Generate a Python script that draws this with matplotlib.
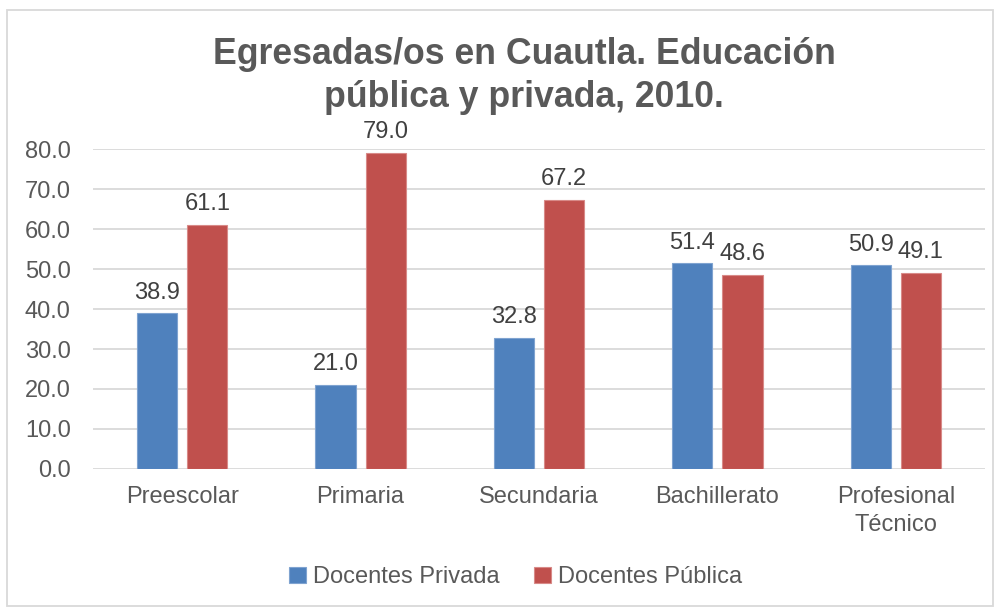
import numpy as np
import matplotlib.pyplot as plt
from matplotlib.patches import Rectangle

plt.rcParams['font.family'] = ['Liberation Sans', 'DejaVu Sans']

categorias = ['Preescolar', 'Primaria', 'Secundaria', 'Bachillerato', 'Profesional\nTécnico']
privada = [38.9, 21.0, 32.8, 51.4, 50.9]
publica = [61.1, 79.0, 67.2, 48.6, 49.1]

azul = '#4F81BD'
rojo = '#C0504D'
gris = '#595959'

fig = plt.figure(figsize=(10, 6.09), dpi=100)
ax = fig.add_axes([0.093, 0.2299, 0.892, 0.5254])

x = np.arange(len(categorias))
w = 0.225
b1 = ax.bar(x - w/2 - 0.028, privada, w, color=azul, edgecolor='#7FA3D0', linewidth=0.8,
            label='Docentes Privada', zorder=3)
b2 = ax.bar(x + w/2 + 0.028, publica, w, color=rojo, edgecolor='#D88A88', linewidth=0.8,
            label='Docentes Pública', zorder=3)

for bars in (b1, b2):
    for r in bars:
        ax.annotate(f'{r.get_height():.1f}', (r.get_x() + r.get_width()/2, r.get_height()),
                    xytext=(0, 7), textcoords='offset points', ha='center', va='bottom',
                    fontsize=17, color='#404040')

ax.set_ylim(0, 80)
ax.set_xlim(-0.5, len(categorias) - 0.5)
ax.set_yticks(np.arange(0, 81, 10))
ax.set_yticklabels([f'{v:.1f}' for v in np.arange(0, 81, 10)])
ax.set_xticks(x)
ax.set_xticklabels(categorias, linespacing=1.35)
ax.tick_params(axis='both', length=0, labelsize=17, labelcolor=gris)
ax.tick_params(axis='y', pad=16)
ax.tick_params(axis='x', pad=12)
ax.grid(axis='y', color='#D9D9D9', linewidth=1.3, zorder=0)
for s in ax.spines.values():
    s.set_visible(False)

fig.text(0.524, 0.875, 'Egresadas/os en Cuautla. Educación\npública y privada, 2010.',
         ha='center', va='center', fontsize=25.7, fontweight='bold', color=gris, linespacing=1.3)

fig.legend(handles=[b1, b2], loc='center', bbox_to_anchor=(0.5155, 0.052), ncol=2, frameon=False,
           fontsize=17, labelcolor=gris, handlelength=0.7, handleheight=0.7,
           handletextpad=0.3, columnspacing=1.48)

fig.patches.append(Rectangle((0.007, 0.005), 0.986, 0.978, transform=fig.transFigure,
                             fill=False, edgecolor='#D9D9D9', linewidth=1.3))

fig.savefig('out.png', dpi=100)
